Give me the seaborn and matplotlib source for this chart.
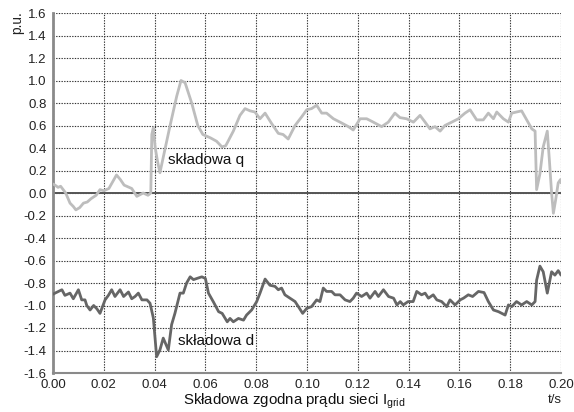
import matplotlib
matplotlib.use("Agg")
import matplotlib.pyplot as plt
import seaborn as sns
import pandas as pd
import numpy as np
from matplotlib.ticker import FixedLocator

# ---- data ----
q_t = [0.000, 0.0008, 0.002, 0.003, 0.004, 0.005, 0.0067, 0.008, 0.009, 0.0105, 0.012, 0.0135,
       0.015, 0.017, 0.0185, 0.020, 0.022, 0.0235, 0.025, 0.0265, 0.028, 0.031, 0.033, 0.0355,
       0.0374, 0.0385, 0.0389, 0.0395, 0.0402, 0.041, 0.0421, 0.044, 0.046, 0.0487, 0.0504, 0.052,
       0.0546, 0.057, 0.059, 0.062, 0.0644, 0.0665, 0.068, 0.071, 0.0736, 0.0756, 0.0776, 0.0795,
       0.0815, 0.0835, 0.086, 0.0887, 0.0906, 0.0926, 0.0953, 0.098, 0.0999, 0.1018, 0.1038, 0.1058,
       0.1077, 0.1104, 0.113, 0.1163, 0.1182, 0.1209, 0.1235, 0.1261, 0.1294, 0.132, 0.1346, 0.1366,
       0.1392, 0.1419, 0.1445, 0.1465, 0.1484, 0.1504, 0.1524, 0.1543, 0.157, 0.1596, 0.1622, 0.1642,
       0.1668, 0.1694, 0.1714, 0.1734, 0.1747, 0.1773, 0.1793, 0.1806, 0.1825, 0.1845, 0.1865, 0.1885,
       0.1898, 0.1904, 0.1917, 0.193, 0.1946, 0.1954, 0.1963, 0.197, 0.1979, 0.1989, 0.1998, 0.2]
q_v = [0.08, 0.07, 0.05, 0.06, 0.03, 0.00, -0.09, -0.12, -0.15, -0.13, -0.09, -0.08,
       -0.05, -0.02, 0.03, 0.02, 0.04, 0.10, 0.16, 0.12, 0.07, 0.04, -0.03, 0.00,
       -0.02, 0.00, 0.52, 0.58, 0.41, 0.30, 0.18, 0.38, 0.59, 0.86, 1.00, 0.98,
       0.80, 0.60, 0.52, 0.49, 0.46, 0.41, 0.42, 0.55, 0.69, 0.75, 0.73, 0.72,
       0.66, 0.71, 0.62, 0.53, 0.52, 0.48, 0.60, 0.68, 0.74, 0.75, 0.78, 0.71,
       0.71, 0.66, 0.63, 0.59, 0.56, 0.66, 0.66, 0.63, 0.59, 0.63, 0.71, 0.67,
       0.66, 0.63, 0.69, 0.63, 0.57, 0.59, 0.55, 0.60, 0.63, 0.66, 0.71, 0.74,
       0.65, 0.65, 0.71, 0.66, 0.72, 0.66, 0.63, 0.71, 0.72, 0.73, 0.65, 0.57,
       0.55, 0.03, 0.17, 0.41, 0.55, 0.30, 0.00, -0.18, -0.06, 0.09, 0.12, 0.09]

d_t = [0.000, 0.0008, 0.0035, 0.0047, 0.0067, 0.008, 0.010, 0.0113, 0.0126, 0.0133, 0.0146, 0.016,
       0.0173, 0.0185, 0.0205, 0.0218, 0.0231, 0.0244, 0.0264, 0.0278, 0.0297, 0.031, 0.0323, 0.0336,
       0.035, 0.037, 0.0382, 0.0395, 0.0408, 0.0421, 0.0434, 0.0454, 0.0467, 0.048, 0.050, 0.0513,
       0.0526, 0.054, 0.0553, 0.0566, 0.0586, 0.060, 0.0612, 0.0632, 0.0652, 0.0666, 0.0686, 0.0697,
       0.071, 0.073, 0.075, 0.0762, 0.0782, 0.0802, 0.0815, 0.0835, 0.0854, 0.0874, 0.0887, 0.090,
       0.0913, 0.0933, 0.0953, 0.0966, 0.0983, 0.0999, 0.1018, 0.1038, 0.1051, 0.1064, 0.1077, 0.1097,
       0.111, 0.113, 0.115, 0.1169, 0.1182, 0.1195, 0.1215, 0.1235, 0.1248, 0.1268, 0.1281, 0.1301,
       0.1321, 0.1341, 0.1354, 0.1367, 0.1379, 0.1398, 0.1418, 0.1432, 0.1451, 0.1465, 0.1478, 0.1497,
       0.1511, 0.153, 0.155, 0.1563, 0.1583, 0.1603, 0.1616, 0.1635, 0.1652, 0.1675, 0.1697, 0.1714,
       0.1734, 0.1754, 0.178, 0.1793, 0.1806, 0.1825, 0.1845, 0.1865, 0.1885, 0.1898, 0.1904, 0.1917,
       0.193, 0.1946, 0.1954, 0.1963, 0.1976, 0.1989, 0.2]
d_v = [-0.90, -0.89, -0.86, -0.91, -0.89, -0.94, -0.86, -0.95, -0.95, -1.00, -1.04, -1.00,
       -1.03, -1.07, -0.95, -0.91, -0.86, -0.92, -0.86, -0.92, -0.88, -0.94, -0.92, -0.89,
       -0.95, -0.95, -0.98, -1.11, -1.455, -1.395, -1.29, -1.395, -1.17, -1.07, -0.89, -0.89,
       -0.80, -0.745, -0.77, -0.76, -0.745, -0.76, -0.89, -0.97, -1.055, -1.07, -1.145, -1.115,
       -1.145, -1.115, -1.13, -1.085, -1.04, -0.965, -0.89, -0.765, -0.82, -0.83, -0.86, -0.845,
       -0.905, -0.935, -0.965, -1.01, -1.07, -1.025, -1.01, -0.95, -0.965, -0.845, -0.875, -0.875,
       -0.905, -0.905, -0.95, -0.965, -0.935, -0.89, -0.92, -0.89, -0.935, -0.875, -0.92, -0.86,
       -0.92, -0.935, -0.995, -0.965, -0.995, -0.965, -0.965, -0.875, -0.905, -0.89, -0.935, -0.905,
       -0.95, -0.965, -1.01, -0.95, -0.995, -0.95, -0.935, -0.905, -0.92, -0.875, -0.885, -0.965,
       -1.04, -1.055, -1.085, -0.995, -1.01, -0.965, -0.995, -0.965, -0.995, -0.965, -0.775, -0.65,
       -0.70, -0.89, -0.80, -0.70, -0.73, -0.69, -0.73]

x_ticks = [0.00, 0.02, 0.04, 0.06, 0.08, 0.10, 0.12, 0.14, 0.16, 0.18, 0.20]
y_ticks = [1.6, 1.4, 1.2, 1.0, 0.8, 0.6, 0.4, 0.2, 0.0, -0.2, -0.4, -0.6, -0.8, -1.0, -1.2, -1.4, -1.6]
label_q = "składowa q"
label_d = "składowa d"
x_title = "Składowa zgodna prądu sieci I$_{\\mathrm{grid}}$"
y_unit = "p.u."
x_unit = "t/s"

# ---- style ----
sns.set_style("white")
plt.rcParams['font.family'] = ['Liberation Sans', 'DejaVu Sans']
plt.rcParams['axes.unicode_minus'] = False
plt.rcParams['mathtext.fontset'] = 'custom'
plt.rcParams['mathtext.rm'] = 'Liberation Sans'
plt.rcParams['mathtext.it'] = 'Liberation Sans'

df_q = pd.DataFrame({"t": q_t, "v": q_v})
df_d = pd.DataFrame({"t": d_t, "v": d_v})

fig = plt.figure(figsize=(5.74, 4.12), dpi=100)
ax = fig.add_axes([53 / 574, 1 - 373 / 412, (561 - 53) / 574, 360 / 412])

ax.axhline(0, color="#555555", lw=1.4, zorder=2)
sns.lineplot(data=df_q, x="t", y="v", ax=ax, color="#bdbdbd", lw=2.0, estimator=None, sort=False, zorder=3)
sns.lineplot(data=df_d, x="t", y="v", ax=ax, color="#666666", lw=2.0, estimator=None, sort=False, zorder=3)

ax.set_xlim(0, 0.2)
ax.set_ylim(-1.6, 1.6)
ax.xaxis.set_major_locator(FixedLocator(x_ticks))
ax.yaxis.set_major_locator(FixedLocator(y_ticks))
ax.set_xticklabels([f"{v:.2f}" for v in x_ticks])
ax.set_yticklabels([f"{v:.1f}" for v in y_ticks])
ax.grid(True, color="#333333", ls=(0, (1.2, 1.2)), lw=0.8)
ax.set_axisbelow(True)

for s in ["top", "right"]:
    ax.spines[s].set_visible(False)
ax.spines["left"].set_color("#8a8a8a")
ax.spines["left"].set_linewidth(2.0)
ax.spines["bottom"].set_color("#8a8a8a")
ax.spines["bottom"].set_linewidth(1.5)
ax.tick_params(axis="both", direction="out", length=4, width=1, color="#8a8a8a",
               labelsize=9.5, labelcolor="#222222", pad=0.5)

ax.set_xlabel("")
ax.set_ylabel("")
fig.text(294 / 574, 1 - 404.5 / 412, x_title, fontsize=10.8, color="#111111",
         ha="center", va="baseline")
ax.text(0.0453, 0.29, label_q, fontsize=11, color="#111111", va="center", ha="left")
ax.text(0.0492, -1.315, label_d, fontsize=11, color="#111111", va="center", ha="left")
fig.text(17 / 574, 1 - 23 / 412, y_unit, rotation=90, fontsize=9.8, ha="center", va="center", color="#222222")
fig.text(555 / 574, 1 - 400 / 412, x_unit, fontsize=9.5, ha="center", va="center", color="#222222")

fig.savefig("out.png", dpi=100)
